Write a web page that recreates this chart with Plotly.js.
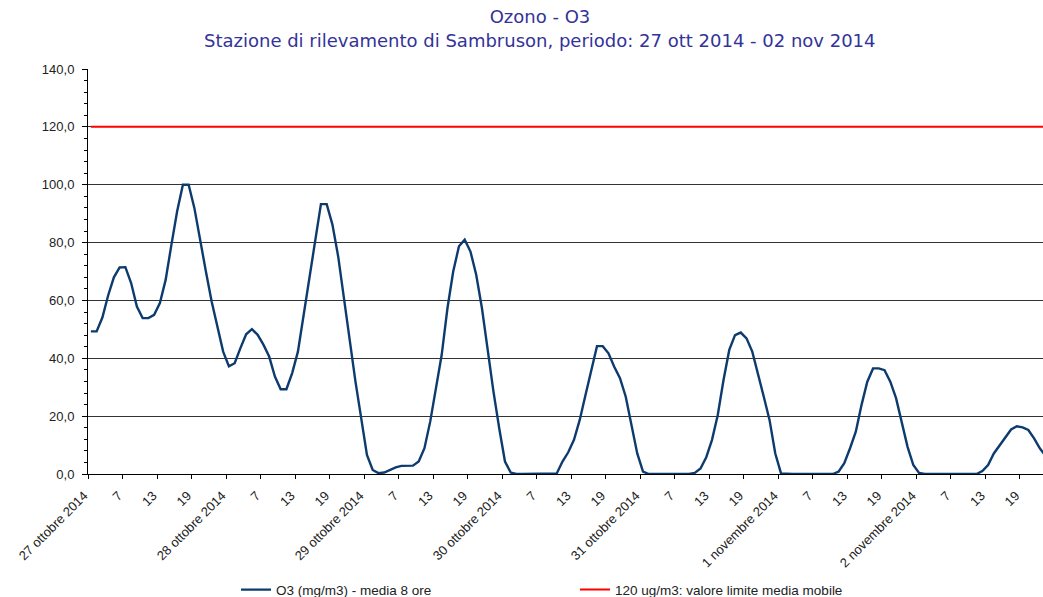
<!DOCTYPE html>
<html>
<head>
<meta charset="utf-8">
<script src="https://cdn.plot.ly/plotly-3.0.1.min.js"></script>
<style>html,body{margin:0;padding:0;background:#fff;}#chart{width:1043px;height:597px;}</style>
</head>
<body>
<div id="chart"></div>
<script>
// Hourly 8-hour moving average of O3, from 27 Oct 2014 h1 to 2 Nov 2014 h24
const o3 = [
  49.3, 49.3, 54.1, 61.7, 68.0, 71.4, 71.5, 66.0, 57.9, 53.9, 53.9, 55.0,
  59.1, 67.1, 79.2, 90.8, 100.0, 100.0, 91.9, 80.4, 70.0, 59.6, 50.4, 42.3,
  37.2, 38.3, 43.5, 48.3, 50.1, 48.1, 44.7, 40.6, 33.7, 29.3, 29.3, 34.9,
  42.3, 55.0, 68.3, 82.1, 93.3, 93.3, 86.2, 75.2, 60.2, 45.8, 32.0, 19.3,
  6.6, 1.4, 0.3, 0.5, 1.4, 2.3, 2.8, 2.8, 2.9, 4.3, 8.9, 18.1,
  29.7, 41.2, 57.3, 70.0, 78.7, 81.0, 76.9, 68.9, 57.3, 42.3, 28.5, 15.8,
  4.3, 0.5, 0, 0, 0, 0, 0, 0, 0, 0.2, 4.3, 7.5,
  11.8, 18.7, 27.3, 35.9, 44.2, 44.2, 41.7, 37.1, 33.1, 26.7, 17.5, 7.1,
  0.8, 0, 0, 0, 0, 0, 0, 0, 0, 0.4, 1.9, 5.8,
  11.8, 20.4, 32.5, 42.9, 48.0, 48.9, 46.9, 42.3, 34.8, 26.7, 18.7, 7.1,
  0.2, 0, 0, 0, 0, 0, 0, 0, 0, 0, 0.8, 3.7,
  8.9, 14.6, 23.9, 31.9, 36.5, 36.5, 35.9, 31.9, 26.2, 18.1, 9.4, 3.1,
  0.4, 0, 0, 0, 0, 0, 0, 0, 0, 0, 0, 1.0,
  3.1, 7.1, 10.0, 12.6, 15.4, 16.5, 16.1, 15.2, 12.3, 8.9, 6.0, 3.5
];
const LIMIT = 120;
const dayLabels = ['27 ottobre 2014', '28 ottobre 2014', '29 ottobre 2014', '30 ottobre 2014',
                   '31 ottobre 2014', '1 novembre 2014', '2 novembre 2014'];
const hourLabels = ['7', '13', '19'];
const seriesNames = ['O3 (mg/m3) - media 8 ore', '120 ug/m3: valore limite media mobile'];
const titleLine1 = 'Ozono - O3';
const titleLine2 = 'Stazione di rilevamento di Sambruson, periodo: 27 ott 2014 - 02 nov 2014';

const hours = o3.map((_, i) => i);
const tickvals = [], ticktext = [];
dayLabels.forEach((d, k) => {
  tickvals.push(k * 24 - 0.5); ticktext.push(d);
  hourLabels.forEach((h, j) => { tickvals.push(k * 24 + (j + 1) * 6 - 0.5); ticktext.push(h); });
});

const tickFont = {family: 'Arial, "Liberation Sans", sans-serif', size: 13, color: '#222'};
const titleFont = {family: '"DejaVu Sans", Verdana, sans-serif', size: 18, color: '#333399'};

const traces = [
  {x: hours, y: o3, type: 'scatter', mode: 'lines', name: seriesNames[0],
   line: {color: '#0d3b6e', width: 2.4}},
  {x: hours, y: hours.map(() => LIMIT), type: 'scatter', mode: 'lines', name: seriesNames[1],
   line: {color: '#ff0000', width: 2}}
];

const layout = {
  width: 1043, height: 597,
  margin: {l: 88, r: 0, t: 69, b: 123, autoexpand: false},
  paper_bgcolor: '#fff', plot_bgcolor: '#fff',
  separators: ', ',
  title: {
    text: titleLine1, font: titleFont,
    x: 540 / 1043, xanchor: 'center', xref: 'container',
    y: 1 - 17 / 597, yanchor: 'middle', yref: 'container'
  },
  annotations: [{
    text: titleLine2, font: titleFont, showarrow: false,
    xref: 'paper', yref: 'paper',
    x: (540 - 88) / 955, xanchor: 'center',
    y: (474 - 40) / 405, yanchor: 'middle'
  }],
  xaxis: {
    range: [-0.5, 165.55], tickmode: 'array', tickvals: tickvals, ticktext: ticktext,
    tickangle: -45, tickfont: tickFont, ticks: 'outside', ticklen: 4, tickcolor: '#000',
    ticklabelshift: -4, ticklabelstandoff: 4, automargin: false,
    showgrid: false, zeroline: false, showline: true, linecolor: '#000', linewidth: 1,
    fixedrange: true
  },
  yaxis: {
    range: [0, 140], dtick: 20, tick0: 0, tickformat: '.1f', tickfont: tickFont,
    ticks: 'outside', ticklen: 5, tickcolor: '#000', ticklabelstandoff: 5, automargin: false,
    showgrid: true, gridcolor: '#333', gridwidth: 1, zeroline: false,
    showline: true, linecolor: '#000', linewidth: 1,
    minor: {dtick: 4, ticks: 'outside', ticklen: 3, tickcolor: '#000', showgrid: false},
    fixedrange: true
  },
  showlegend: true,
  legend: {
    orientation: 'h', x: 0.155, xanchor: 'left', y: -0.286, yanchor: 'middle',
    font: {family: 'Arial, "Liberation Sans", sans-serif', size: 13.5, color: '#222'},
    entrywidth: 294, entrywidthmode: 'pixels', bgcolor: 'rgba(0,0,0,0)'
  }
};

Plotly.newPlot('chart', traces, layout, {displayModeBar: false, staticPlot: true});
</script>
</body>
</html>
